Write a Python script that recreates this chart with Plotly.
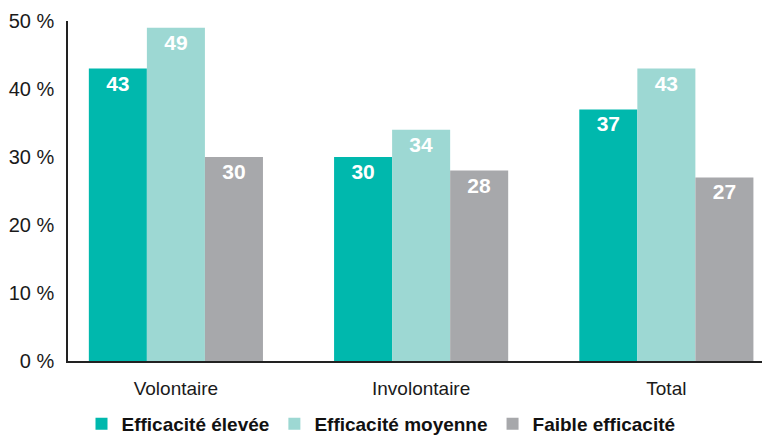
import plotly.graph_objects as go

categories = ["Volontaire", "Involontaire", "Total"]
series_names = ["Efficacité élevée", "Efficacité moyenne", "Faible efficacité"]
values_high = [43, 30, 37]
values_mid = [49, 34, 43]
values_low = [30, 28, 27]
colors = ["#00B8AD", "#9DD8D3", "#A7A8AB"]
y_ticks = [0, 10, 20, 30, 40, 50]
y_tick_labels = ["0 %", "10 %", "20 %", "30 %", "40 %", "50 %"]

fig = go.Figure()
for name, vals, col in zip(series_names, [values_high, values_mid, values_low], colors):
    fig.add_trace(go.Bar(
        x=categories, y=vals, name=name, marker_color=col, marker_line_width=0,
        text=[str(v) for v in vals], textposition="inside", insidetextanchor="end",
        textangle=0,
        textfont=dict(family="Liberation Sans", size=21, color="white", weight="bold"),
        cliponaxis=False,
    ))

fig.update_layout(
    width=762, height=437,
    margin=dict(l=68, r=0, t=21, b=76, autoexpand=False),
    paper_bgcolor="white", plot_bgcolor="white",
    barmode="group", bargap=0.29, bargroupgap=0,
    font=dict(family="Liberation Sans", size=20, color="#1a1a1a"),
    uniformtext=dict(mode="show", minsize=21),
    legend=dict(
        orientation="h", x=0.5, xanchor="center", xref="container",
        y=0.03, yanchor="middle", yref="container",
        font=dict(family="Liberation Sans", size=19, color="#111111", weight="bold"),
        traceorder="normal", entrywidth=0, itemwidth=30,
    ),
    showlegend=True,
)
fig.update_xaxes(
    range=[-0.44, 2.39], showline=True, linecolor="#222222", linewidth=1.5,
    ticks="", showgrid=False, tickfont=dict(size=19), ticklabelstandoff=9,
)
fig.update_yaxes(
    range=[0, 50], tickvals=y_ticks, ticktext=y_tick_labels, showline=True,
    linecolor="#222222", linewidth=1.5, showgrid=False, zeroline=False,
    ticks="", ticklabelstandoff=8, tickfont=dict(size=20),
)

fig.write_html("out.html")
